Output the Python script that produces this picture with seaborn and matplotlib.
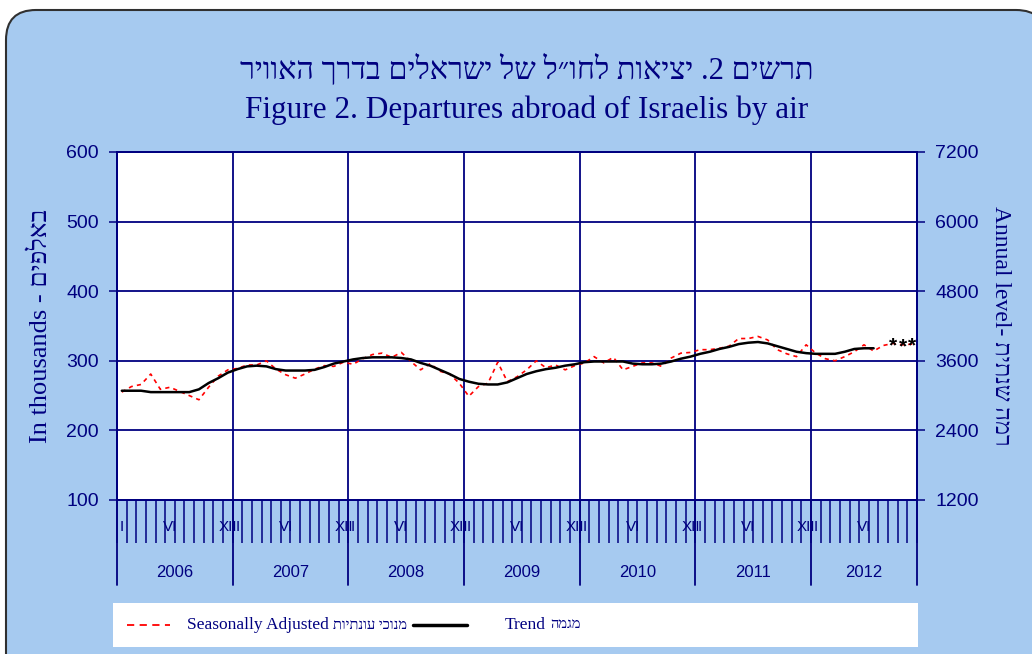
import numpy as np
import pandas as pd
import seaborn as sns
import matplotlib.pyplot as plt
from matplotlib.patches import FancyBboxPatch
from matplotlib.transforms import IdentityTransform

# data: monthly, Jan 2006 .. Nov 2012 (thousands)
years = ['2006', '2007', '2008', '2009', '2010', '2011', '2012']
month_marks = {0: 'I', 5: 'VI', 11: 'XII'}
seasonally_adjusted = [
    255, 263, 266, 281, 259, 262, 256, 250, 244, 262, 278, 287,
    289, 294, 294, 300, 288, 280, 275, 281, 288, 293, 292, 298,
    295, 303, 309, 311, 305, 312, 299, 287, 296, 285, 281, 268,
    249, 263, 268, 298, 270, 277, 287, 300, 290, 294, 287, 293,
    297, 306, 297, 305, 287, 292, 297, 297, 292, 304, 311, 312,
    316, 316, 318, 321, 332, 332, 335, 330, 316, 310, 306, 323,
    311, 303, 300, 306, 313, 323, 314, 322, 325, 323, 324,
]
trend = [
    257, 257, 257, 255, 255, 255, 255, 255, 259, 268, 275, 283,
    288, 292, 293, 292, 288, 286, 286, 286, 287, 291, 296, 299,
    302, 304, 305, 305, 305, 304, 302, 297, 293, 287, 281, 274,
    270, 267, 266, 266, 269, 275, 281, 285, 288, 290, 293, 295,
    298, 299, 299, 299, 299, 296, 295, 295, 296, 299, 303, 306,
    310, 313, 317, 320, 324, 326, 327, 325, 321, 317, 313, 311,
    310, 310, 310, 313, 317, 318, 318,
]
n_provisional = 3

# hebrew strings kept in visual (left-to-right) order
title_he = 'ריוואה ךרדב םילארשי לש ל״וחל תואיצי .2 םישרת'
title_en = 'Figure 2. Departures abroad of Israelis by air'
ylabel_left = 'In thousands - םיפלאב'
ylabel_right = 'Annual level- תיתנש המר'
legend_sa = ('Seasonally Adjusted', 'תויתנוע יכונמ')
legend_trend = ('Trend', 'המגמ')

sns.set_style('white')
plt.rcParams['font.family'] = ['Liberation Sans', 'DejaVu Sans']
serif = ['Liberation Serif', 'DejaVu Sans']
navy = '#000080'

fig = plt.figure(figsize=(10.32, 6.54), dpi=100)
fig.patch.set_facecolor('white')
bg = FancyBboxPatch((6, -40), 1040, 684, boxstyle='round,pad=0,rounding_size=30',
                    transform=IdentityTransform(), facecolor='#a6caf0',
                    edgecolor='#303030', lw=1.5, zorder=-10)
fig.patches.append(bg)

ax = fig.add_axes([117 / 1032, 1 - 500 / 654, 800 / 1032, 348 / 654])
ax.set_facecolor('white')

sa_df = pd.DataFrame({'month': np.arange(len(seasonally_adjusted)), 'value': seasonally_adjusted})
tr_df = pd.DataFrame({'month': np.arange(len(trend)), 'value': trend})
sns.lineplot(data=sa_df, x='month', y='value', ax=ax, color='red', lw=1.2,
             linestyle=(0, (2.5, 2.5)), zorder=3)
sns.lineplot(data=tr_df, x='month', y='value', ax=ax, color='black', lw=1.8, zorder=4)
for i in range(len(seasonally_adjusted) - n_provisional, len(seasonally_adjusted)):
    ax.text(i, seasonally_adjusted[i] - 3, '*', ha='center', va='center',
            fontsize=15, fontweight='bold', color='black', zorder=5)

n_months = len(seasonally_adjusted)
ax.set_xlim(-0.5, n_months - 0.5)
ax.set_ylim(100, 600)
ax.set_yticks(np.arange(100, 601, 100))
ax.yaxis.grid(True, color=navy, lw=1.3)
ax.set_xticks(np.arange(-0.5, n_months, 1))
ax.set_xticklabels([])
ax.tick_params(axis='x', bottom=True, length=31, width=1.1, color=navy, direction='out')
ax.tick_params(axis='y', left=True, length=6, width=1.1, color=navy, direction='out',
               labelsize=14, labelcolor=navy, pad=7)
ax.set_xlabel('')
ax.set_ylabel(ylabel_left, family=serif, fontsize=19, color=navy, labelpad=10)
for s in ax.spines.values():
    s.set_color(navy)
    s.set_linewidth(1.3)

bounds = [-0.5 + 12 * k for k in range(len(years))] + [n_months - 0.5]
for b in bounds:
    ax.axvline(b, ymin=-0.245, ymax=1, color=navy, lw=1.3, clip_on=False, zorder=2)

xt = ax.get_xaxis_transform()
for k, yr in enumerate(years):
    start = 12 * k
    end = min(start + 12, n_months)
    ax.text((start + end - 1) / 2, -0.207, yr, transform=xt, ha='center', va='center',
            fontsize=12, color=navy)
    for m, lab in month_marks.items():
        if start + m < n_months:
            ax.text(start + m, -0.078, lab, transform=xt, ha='center', va='center',
                    fontsize=11, color=navy, zorder=6)

ax2 = ax.twinx()
ax2.set_ylim(1200, 7200)
ax2.set_yticks(np.arange(1200, 7201, 1200))
ax2.grid(False)
ax2.tick_params(axis='y', right=True, length=6, width=1.1, color=navy, direction='out',
                labelsize=14, labelcolor=navy, pad=7)
ax2.set_ylabel(ylabel_right, family=serif, fontsize=17, color=navy, rotation=-90,
               labelpad=24)
for s in ax2.spines.values():
    s.set_color(navy)
    s.set_linewidth(1.3)

fig.text(527 / 1032, 1 - 70 / 654, title_he, family=serif, fontsize=22, color=navy,
         ha='center', va='center')
fig.text(527 / 1032, 1 - 110 / 654, title_en, family=serif, fontsize=22.5, color=navy,
         ha='center', va='center')

lax = fig.add_axes([113 / 1032, 7 / 654, 805 / 1032, 44 / 654])
lax.set_facecolor('white')
lax.set_xlim(0, 805)
lax.set_ylim(0, 1)
lax.set_xticks([])
lax.set_yticks([])
for s in lax.spines.values():
    s.set_visible(False)
lax.plot([14, 57], [0.5, 0.5], color='red', lw=1.3, linestyle=(0, (4, 3)))
t1 = lax.text(74, 0.5, legend_sa[0], family=serif, fontsize=12.5, color=navy, va='center')
lax.annotate(legend_sa[1], xy=(1, 0.5), xycoords=t1, xytext=(3, 0),
             textcoords='offset points', family=serif, fontsize=10.5, color=navy,
             va='center')
lax.plot([300, 354], [0.5, 0.5], color='black', lw=2.5)
t2 = lax.text(392, 0.5, legend_trend[0], family=serif, fontsize=12.5, color=navy, va='center')
lax.annotate(legend_trend[1], xy=(1, 0.5), xycoords=t2, xytext=(3, 0),
             textcoords='offset points', family=serif, fontsize=10.5, color=navy,
             va='center')

fig.savefig('out.png', dpi=100)
